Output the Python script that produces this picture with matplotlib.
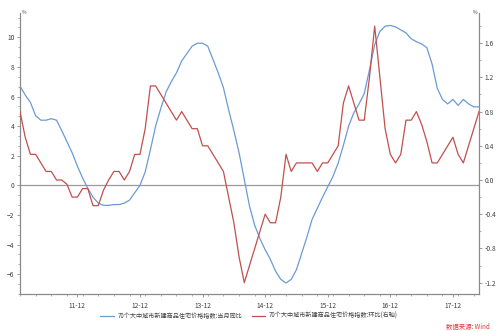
import matplotlib
matplotlib.use('Agg')
import matplotlib.pyplot as plt
from matplotlib.ticker import MultipleLocator, AutoMinorLocator, FixedLocator
import numpy as np

plt.rcParams['font.family'] = ['Noto Sans CJK SC', 'DejaVu Sans']

# ---- data (monthly, starting 2011-01) ----
start_year = 2011
start_month = 1

yoy = [6.7, 6.1, 5.6, 4.7, 4.4, 4.4, 4.5, 4.4, 3.7, 2.95, 2.2, 1.3,
       0.5, -0.2, -0.8, -1.2, -1.35, -1.35, -1.3, -1.3, -1.2, -1.0, -0.5, 0.0,
       0.9, 2.4, 4.0, 5.2, 6.3, 7.0, 7.6, 8.4, 8.9, 9.4, 9.6, 9.6,
       9.4, 8.5, 7.6, 6.6, 5.1, 3.7, 2.2, 0.4, -1.4, -2.7, -3.6, -4.35,
       -5.0, -5.8, -6.35, -6.6, -6.35, -5.7, -4.6, -3.5, -2.3, -1.55, -0.8, -0.1,
       0.6, 1.5, 2.7, 4.0, 4.9, 5.5, 6.2, 7.8, 9.5, 10.4, 10.75, 10.8,
       10.7, 10.5, 10.3, 9.9, 9.7, 9.55, 9.3, 8.2, 6.55, 5.8, 5.5, 5.8,
       5.4, 5.8, 5.5, 5.3, 5.3]

mom = [0.8, 0.5, 0.3, 0.3, 0.2, 0.1, 0.1, 0.0, 0.0, -0.05, -0.2, -0.2,
       -0.1, -0.1, -0.3, -0.3, -0.12, 0.0, 0.1, 0.1, 0.0, 0.1, 0.3, 0.3,
       0.6, 1.1, 1.1, 1.0, 0.9, 0.8, 0.7, 0.8, 0.7, 0.6, 0.6, 0.4,
       0.4, 0.3, 0.2, 0.1, -0.2, -0.5, -0.9, -1.2, -1.0, -0.8, -0.6, -0.4,
       -0.5, -0.5, -0.2, 0.3, 0.1, 0.2, 0.2, 0.2, 0.2, 0.1, 0.2, 0.2,
       0.3, 0.4, 0.9, 1.1, 0.9, 0.7, 0.7, 1.2, 1.8, 1.2, 0.6, 0.3,
       0.2, 0.3, 0.7, 0.7, 0.8, 0.65, 0.45, 0.2, 0.2, 0.3, 0.4, 0.5,
       0.3, 0.2, 0.4, 0.6, 0.8]

xtick_labels = ['11-12', '12-12', '13-12', '14-12', '15-12', '16-12', '17-12']
yoy_label = '70个大中城市新建商品住宅价格指数:当月同比'
mom_label = '70个大中城市新建商品住宅价格指数:环比(右轴)'
source_text = '数据来源: Wind'

blue = '#6b9bd3'
red = '#c0504d'
axis_col = '#8a8a8a'
text_col = '#404040'

x = np.arange(len(yoy))
tick_pos = [(2000 + int(l[:2]) - start_year) * 12 + int(l[3:]) - start_month for l in xtick_labels]

W, H = 500, 331
fig = plt.figure(figsize=(W / 100, H / 100), dpi=100)
ax = fig.add_axes([20 / W, 1 - 294 / H, 459 / W, (294 - 13) / H])
ax2 = ax.twinx()

ax.axhline(0, color='#9a9a9a', lw=0.9, zorder=1)
l1, = ax.plot(x, yoy, color=blue, lw=0.9, zorder=3)
l2, = ax2.plot(x, mom, color=red, lw=0.9, zorder=3)

ax.set_xlim(0, len(yoy) - 1)
ax.set_ylim(-7.34, 11.64)
ax2.set_ylim(-1.333, 1.953)

ax.xaxis.set_major_locator(FixedLocator(tick_pos))
ax.set_xticklabels(xtick_labels)
ax.xaxis.set_minor_locator(MultipleLocator(3))
ax.yaxis.set_major_locator(FixedLocator([-6, -4, -2, 0, 2, 4, 6, 8, 10]))
ax.yaxis.set_minor_locator(MultipleLocator(2 / 3))
ax2.yaxis.set_major_locator(FixedLocator([-1.2, -0.8, -0.4, 0.0, 0.4, 0.8, 1.2, 1.6]))
ax2.yaxis.set_minor_locator(MultipleLocator(0.2))
ax2.yaxis.set_major_formatter(plt.FuncFormatter(lambda v, p: f'{v:.1f}'))

for a in (ax, ax2):
    for s in a.spines.values():
        s.set_color(axis_col)
        s.set_linewidth(0.8)
    a.spines['top'].set_visible(False)
    a.tick_params(which='major', length=2.5, width=0.6, color=axis_col,
                  labelsize=4.8, labelcolor=text_col, pad=1.5)
    a.tick_params(which='minor', length=1.5, width=0.5, color=axis_col)
ax.tick_params(axis='x', pad=3)

fig.text(22 / W, 1 - 12 / H, '%', fontsize=3.5, color=text_col, ha='left', va='center')
fig.text(477 / W, 1 - 12 / H, '%', fontsize=3.5, color=text_col, ha='right', va='center')

fig.legend([l1, l2], [yoy_label, mom_label], loc='center', ncol=2,
           bbox_to_anchor=(249 / W, 1 - 316 / H), frameon=False, fontsize=4.4,
           handlelength=2.2, handletextpad=0.6, columnspacing=1.5,
           labelcolor=text_col)

fig.text(490 / W, 1 - 327 / H, source_text, fontsize=4.6, color='#e8383d',
         style='italic', ha='right', va='center')

fig.savefig('out.png', dpi=100)
